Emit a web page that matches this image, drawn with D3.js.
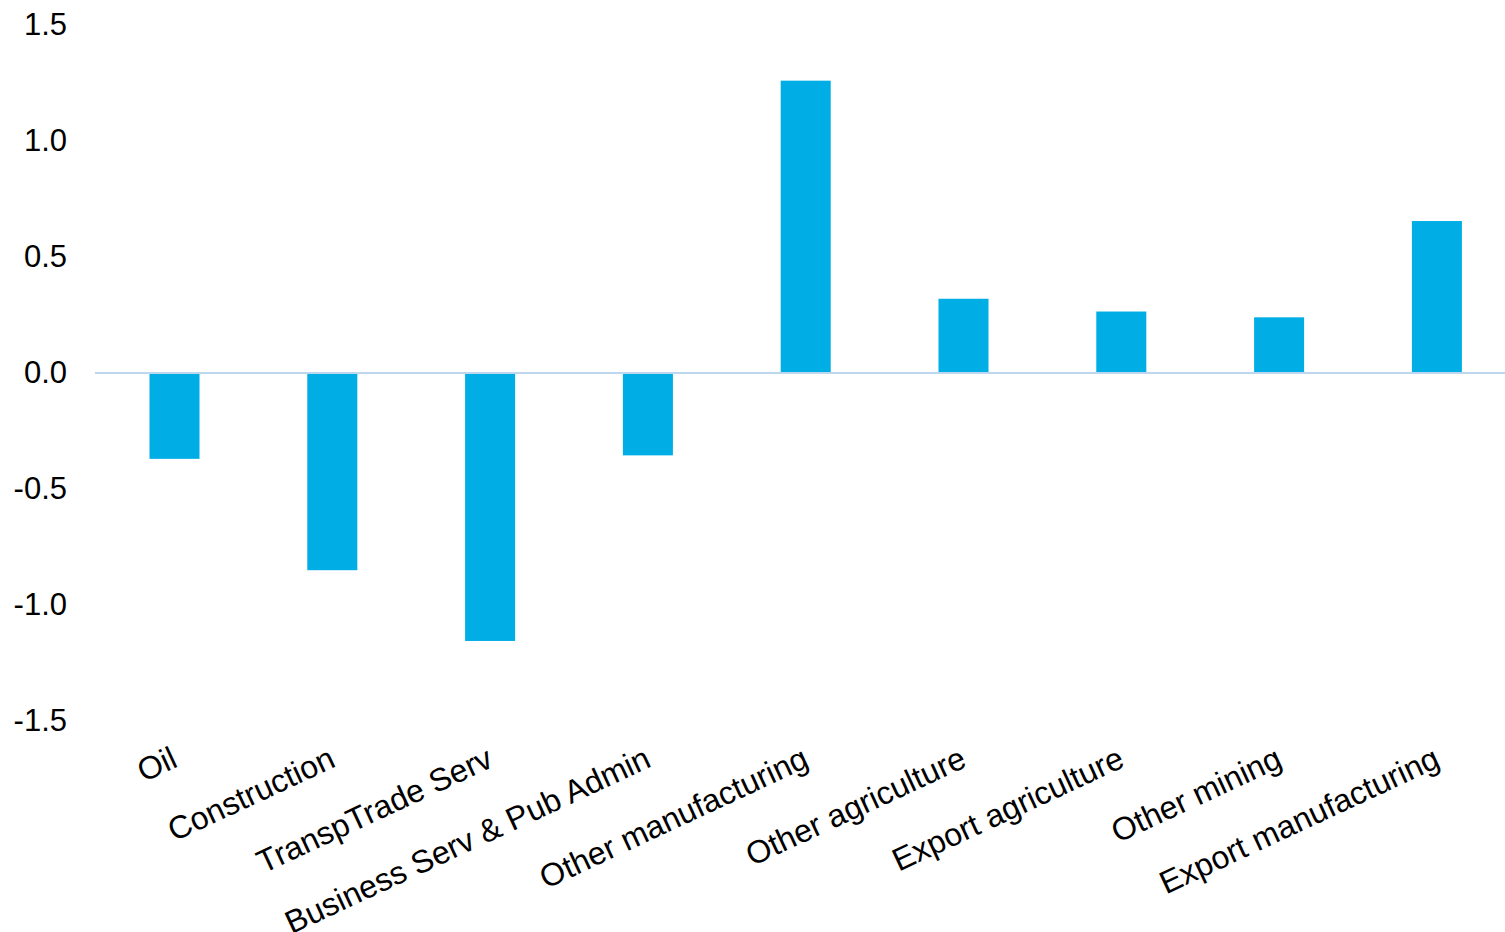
<!DOCTYPE html>
<html>
<head>
<meta charset="utf-8">
<script src="https://cdn.jsdelivr.net/npm/d3@7"></script>
<style>
  html, body { margin: 0; padding: 0; background: #ffffff; }
  svg { display: block; font-family: "Liberation Sans", Arial, sans-serif; }
</style>
</head>
<body>
<svg id="chart" width="1505" height="932"></svg>
<script>
// Sector contributions
const categories = [
  "Oil", "Construction", "TranspTrade Serv", "Business Serv & Pub Admin",
  "Other manufacturing", "Other agriculture", "Export agriculture",
  "Other mining", "Export manufacturing"
];
const values = [-0.37, -0.85, -1.155, -0.355, 1.26, 0.32, 0.265, 0.24, 0.655];
const tickValues = [-1.5, -1.0, -0.5, 0.0, 0.5, 1.0, 1.5];
const tickLabels = ["-1.5", "-1.0", "-0.5", "0.0", "0.5", "1.0", "1.5"];

const svg = d3.select("#chart");

const y = d3.scaleLinear().domain([-1.5, 1.5]).range([721, 25]);
const x = d3.scaleBand()
  .domain(categories)
  .range([95.6, 1515.8])
  .paddingInner(0.683)
  .paddingOuter(0.3415);

// Y axis labels only (no axis line, no ticks)
const yAxis = d3.axisLeft(y)
  .tickValues(tickValues)
  .tickSize(0)
  .tickPadding(0)
  .tickFormat((d, i) => tickLabels[i]);

const gy = svg.append("g")
  .attr("transform", "translate(67,0)")
  .call(yAxis);
gy.select(".domain").remove();
gy.selectAll("text")
  .attr("font-size", 31)
  .attr("fill", "#000")
  .attr("font-family", "Liberation Sans, Arial, sans-serif");

// Bars
svg.append("g").selectAll("rect")
  .data(values)
  .join("rect")
  .attr("x", (d, i) => x(categories[i]))
  .attr("width", x.bandwidth())
  .attr("y", d => y(Math.max(0, d)))
  .attr("height", d => Math.abs(y(d) - y(0)))
  .attr("fill", "#00AEE5");

// Zero line
svg.append("line")
  .attr("x1", 95).attr("x2", 1505)
  .attr("y1", y(0)).attr("y2", y(0))
  .attr("stroke", "#BDD7EE")
  .attr("stroke-width", 2);

// Category labels, rotated
svg.append("g").selectAll("text")
  .data(categories)
  .join("text")
  .attr("transform", d => `translate(${x(d) + x.bandwidth() / 2 - 5},745) rotate(-25)`)
  .attr("text-anchor", "end")
  .attr("dy", "0.72em")
  .attr("font-size", 32)
  .attr("fill", "#000")
  .text(d => d);
</script>
</body>
</html>
